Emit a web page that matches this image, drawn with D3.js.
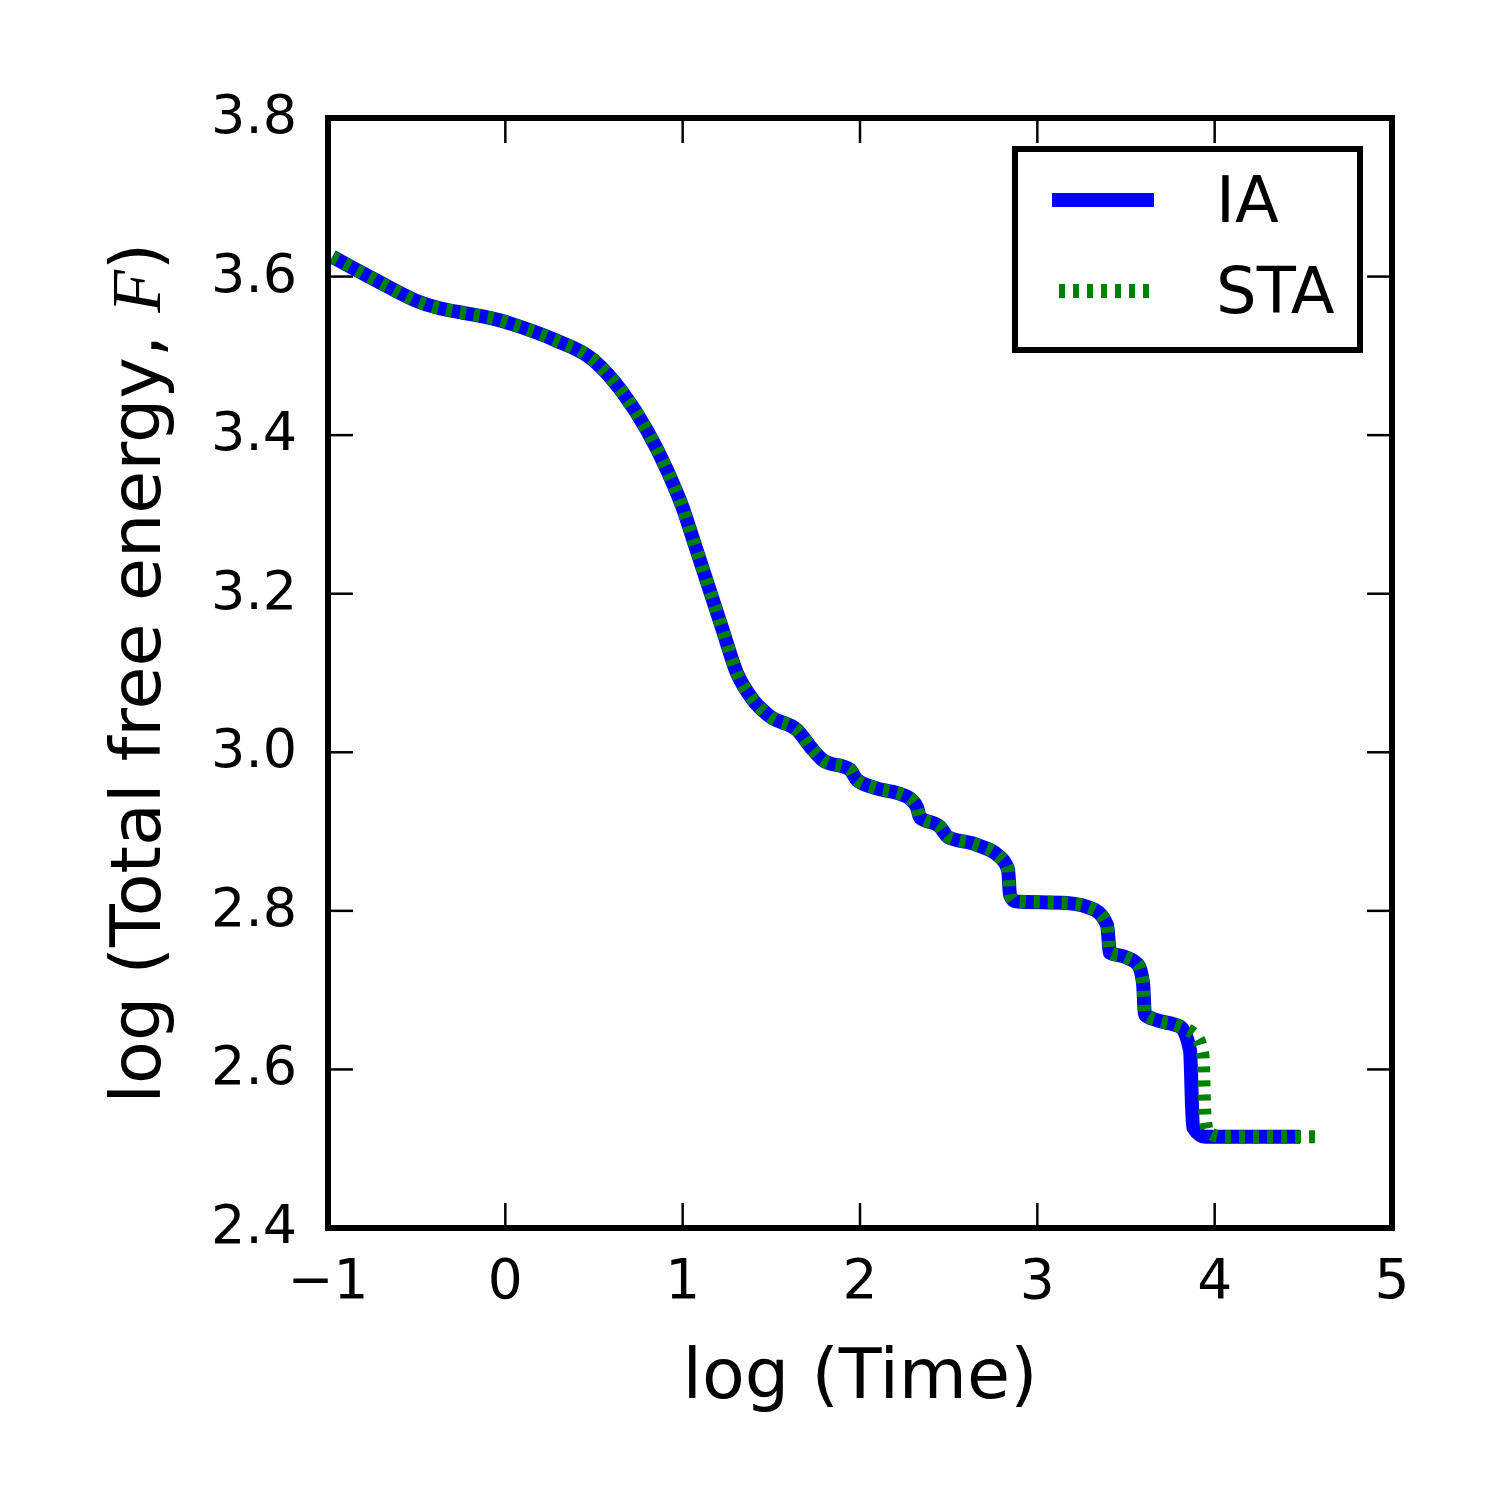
<!DOCTYPE html>
<html><head><meta charset="utf-8">
<script src="https://cdn.jsdelivr.net/npm/d3@7"></script>
<style>body{margin:0;background:#fff}</style>
</head><body>
<svg id="c" width="1500" height="1500"></svg>
<script>
const iaTime = [-0.975,-0.735,-0.509,-0.002,0.280,0.495,0.664,0.799,0.912,0.996,1.070,1.143,1.222,1.306,1.397,1.493,1.645,1.735,1.791,1.944,1.983,2.073,2.265,2.321,2.338,2.451,2.496,2.649,2.789,2.835,2.846,2.874,3.167,3.325,3.393,3.410,3.494,3.568,3.596,3.607,3.675,3.805,3.861,3.878,3.946,4.481];
const iaEnergy = [3.625,3.596,3.570,3.543,3.520,3.495,3.453,3.406,3.356,3.311,3.261,3.211,3.157,3.100,3.066,3.045,3.028,3.003,2.990,2.978,2.965,2.956,2.944,2.931,2.918,2.906,2.893,2.884,2.868,2.852,2.820,2.812,2.810,2.801,2.782,2.747,2.742,2.732,2.709,2.669,2.662,2.654,2.624,2.527,2.515,2.515];
const staTime = [-0.975,-0.735,-0.509,-0.002,0.280,0.495,0.664,0.799,0.912,0.996,1.070,1.143,1.222,1.306,1.397,1.493,1.645,1.735,1.791,1.944,1.983,2.073,2.265,2.321,2.338,2.451,2.496,2.649,2.789,2.835,2.846,2.874,3.167,3.325,3.393,3.410,3.494,3.568,3.596,3.607,3.675,3.805,3.900,3.934,3.946,3.962,4.041,4.577];
const staEnergy = [3.625,3.596,3.570,3.543,3.520,3.495,3.453,3.406,3.356,3.311,3.261,3.211,3.157,3.100,3.066,3.045,3.028,3.003,2.990,2.978,2.965,2.956,2.944,2.931,2.918,2.906,2.893,2.884,2.868,2.852,2.820,2.812,2.810,2.801,2.782,2.747,2.742,2.732,2.709,2.669,2.662,2.654,2.641,2.618,2.540,2.521,2.515,2.515];
const xTicks = [-1,0,1,2,3,4,5];
const yTicks = [2.4,2.6,2.8,3.0,3.2,3.4,3.6,3.8];
const seriesNames = ["IA","STA"];

const L=328,R=1392,T=118,B=1228;
const svg=d3.select("#c");
const x=d3.scaleLinear().domain([-1,5]).range([L,R]);
const y=d3.scaleLinear().domain([2.4,3.8]).range([B,T]);
const font="DejaVu Sans";

svg.append("defs").append("clipPath").attr("id","clip").append("rect")
  .attr("x",L).attr("y",T).attr("width",R-L).attr("height",B-T);

const line=d3.line().x(d=>x(d[0])).y(d=>y(d[1])).curve(d3.curveMonotoneX);
const ia=iaTime.map((t,i)=>[t,iaEnergy[i]]);
const sta=staTime.map((t,i)=>[t,staEnergy[i]]);
const g=svg.append("g").attr("clip-path","url(#clip)");
g.append("path").attr("d",line(ia)).attr("fill","none").attr("stroke","#0000ff")
  .attr("stroke-width",14).attr("stroke-linejoin","round");
g.append("path").attr("d",line(sta)).attr("fill","none").attr("stroke","#008000")
  .attr("stroke-width",13).attr("stroke-dasharray","6,8");

// ticks
const tk=svg.append("g").attr("stroke","#000").attr("stroke-width",2.5);
xTicks.forEach(v=>{
  tk.append("line").attr("x1",x(v)).attr("x2",x(v)).attr("y1",B).attr("y2",B-25);
  tk.append("line").attr("x1",x(v)).attr("x2",x(v)).attr("y1",T).attr("y2",T+25);
});
yTicks.forEach(v=>{
  tk.append("line").attr("x1",L).attr("x2",L+25).attr("y1",y(v)).attr("y2",y(v));
  tk.append("line").attr("x1",R).attr("x2",R-25).attr("y1",y(v)).attr("y2",y(v));
});
svg.append("rect").attr("x",L).attr("y",T).attr("width",R-L).attr("height",B-T)
  .attr("fill","none").attr("stroke","#000").attr("stroke-width",6);

const fmtX=v=>v<0?"\u2212"+Math.abs(v):String(v);
svg.append("g").selectAll("text").data(xTicks).join("text")
  .attr("x",d=>x(d)).attr("y",1298).attr("text-anchor","middle")
  .attr("font-family",font).attr("font-size",55).text(fmtX);
svg.append("g").selectAll("text").data(yTicks).join("text")
  .attr("x",297).attr("y",d=>y(d)+15).attr("text-anchor","end")
  .attr("font-family",font).attr("font-size",54).text(d=>d.toFixed(1));

svg.append("text").attr("x",(L+R)/2).attr("y",1398).attr("text-anchor","middle")
  .attr("font-family",font).attr("font-size",70).text("log (Time)");
const yl=svg.append("text").attr("transform",`translate(160,${(T+B)/2}) rotate(-90)`)
  .attr("text-anchor","middle").attr("font-family",font).attr("font-size",70);
yl.append("tspan").text("log (Total free energy, ");
yl.append("tspan").attr("font-family","Liberation Serif").attr("font-style","italic").text("F");
yl.append("tspan").text(")");

// legend
const lg=svg.append("g");
lg.append("rect").attr("x",1015).attr("y",149).attr("width",345).attr("height",201)
  .attr("fill","#fff").attr("stroke","#000").attr("stroke-width",6);
lg.append("line").attr("x1",1052).attr("x2",1154).attr("y1",200).attr("y2",200)
  .attr("stroke","#0000ff").attr("stroke-width",14);
lg.append("line").attr("x1",1059).attr("x2",1150).attr("y1",291).attr("y2",291)
  .attr("stroke","#008000").attr("stroke-width",14).attr("stroke-dasharray","6,8");
lg.selectAll("text.l").data(seriesNames).join("text").attr("class","l")
  .attr("x",1216).attr("y",(d,i)=>i===0?222:313)
  .attr("font-family",font).attr("font-size",64).text(d=>d);
</script>
</body></html>
